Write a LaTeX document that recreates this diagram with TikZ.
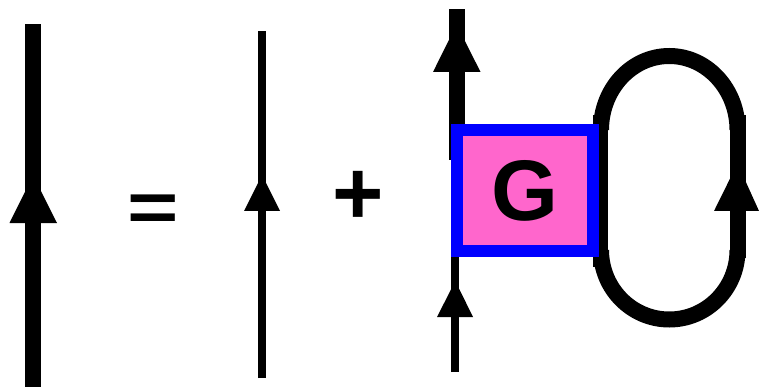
\documentclass[tikz,border=0pt]{standalone}
\usepackage{fontspec}
\setmainfont{Liberation Sans}
\definecolor{gpink}{HTML}{FF66CC}
\definecolor{gblue}{HTML}{0000FF}
\tikzset{
  thickline/.style={draw=black,line width=16pt},
  thinline/.style={draw=black,line width=8pt},
  loopline/.style={draw=black,line width=16pt},
  bigtip/.style={fill=black,draw=none},
  sym/.style={inner sep=0pt,text=black},
}
\begin{document}
\begin{tikzpicture}[x=1pt,y=-1pt]
\useasboundingbox (0,0) rectangle (759,387);
% left
\coordinate (a1) at (33.2,387); \coordinate (a2) at (33.2,24);
\draw[thickline] (a1) -- (a2);
\fill[bigtip] (9.5,223) -- (33.2,175.5) -- (57,223) -- cycle;
% equals, plus
\node[sym,font=\bfseries\fontsize{88}{88}\selectfont] (eq) at (153.5,213.5) {\scalebox{1}[0.8]{=}};
\node[sym,font=\bfseries\fontsize{88}{88}\selectfont] (pl) at (358.5,198) {\scalebox{1}[1.03]{+}};
% thin
\coordinate (b1) at (262,378); \coordinate (b2) at (262,31);
\draw[thinline] (b1) -- (b2);
\fill[bigtip] (244,211) -- (262,175) -- (280,211) -- cycle;
% top thick
\coordinate (c1) at (456.7,160); \coordinate (c2) at (456.7,9);
\draw[thickline] (c1) -- (c2);
\fill[bigtip] (433,72) -- (456.7,24.5) -- (480.5,72) -- cycle;
% lower thin
\coordinate (d1) at (455.3,372); \coordinate (d2) at (455.3,250);
\draw[thinline] (d1) -- (d2);
\fill[bigtip] (437,317) -- (455.3,281) -- (473,317) -- cycle;
% loop
\draw[loopline] (601,130) arc[start angle=180,end angle=360,x radius=68.25,y radius=74];
\draw[loopline] (601,250) arc[start angle=180,end angle=360,x radius=68.25,y radius=-69.5];
\draw[line width=15pt] (600.5,115) -- (600.5,267);
\draw[line width=15.7pt] (737.85,115) -- (737.85,258);
\draw[thinline] (734,250) -- (734,267);
\fill[bigtip] (714,211) -- (737.5,163.5) -- (759,211) -- cycle;
% box
\node[draw=gblue,fill=gpink,line width=12pt,minimum width=136.3pt,minimum height=121pt,inner sep=0pt,font=\bfseries\fontsize{86}{86}\selectfont] (g) at (524.8,190.5) {G};
\end{tikzpicture}
\end{document}
